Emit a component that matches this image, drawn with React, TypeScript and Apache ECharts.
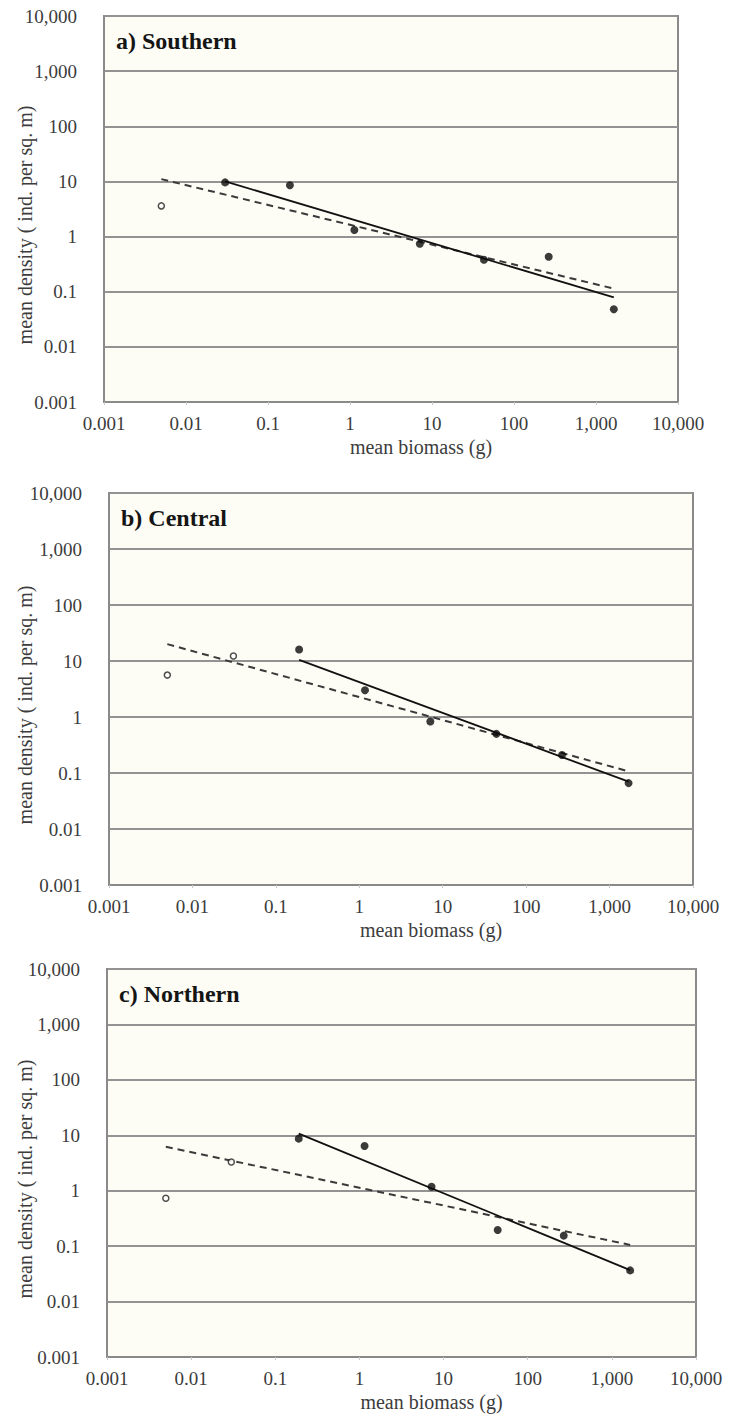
import React, { useEffect, useRef } from "react";
import * as echarts from "echarts";

// ---- data ----
const tickLabels = ["0.001", "0.01", "0.1", "1", "10", "100", "1,000", "10,000"];
const panelTitles = ["a) Southern", "b) Central", "c) Northern"];
const xTitle = "mean biomass (g)";
const yTitle = "mean density ( ind. per sq. m)";

const biomassA = [0.005, 0.03, 0.185, 1.13, 7.1, 43, 265, 1650];
const densityA = [3.6, 9.6, 8.5, 1.32, 0.74, 0.38, 0.43, 0.048];
const openCountA = 1;
const solidA = [[0.03, 10.0], [1650, 0.079]];
const dashedA = [[0.005, 11], [1600, 0.115]];

const biomassB = [0.005, 0.031, 0.19, 1.17, 7.1, 44, 269, 1690];
const densityB = [5.6, 12.3, 16.1, 3.0, 0.83, 0.5, 0.21, 0.066];
const openCountB = 2;
const solidB = [[0.19, 10.5], [1690, 0.07]];
const dashedB = [[0.005, 20], [1690, 0.107]];

const biomassC = [0.005, 0.03, 0.19, 1.15, 7.2, 44, 268, 1650];
const densityC = [0.73, 3.3, 8.7, 6.4, 1.18, 0.196, 0.155, 0.0365];
const openCountC = 2;
const solidC = [[0.19, 10.7], [1650, 0.037]];
const dashedC = [[0.005, 6.2], [1650, 0.105]];

const panels = [
  { biomass: biomassA, density: densityA, open: openCountA, solid: solidA, dashed: dashedA },
  { biomass: biomassB, density: densityB, open: openCountB, solid: solidB, dashed: dashedB },
  { biomass: biomassC, density: densityC, open: openCountC, solid: solidC, dashed: dashedC },
];

// ---- layout ----
const grids = [
  { left: 104, top: 16, width: 574, height: 386 },
  { left: 109, top: 493, width: 584, height: 392 },
  { left: 107, top: 969, width: 589, height: 388 },
];

const FONT = "Liberation Serif, serif";
const fmt = (v: number) => tickLabels[Math.round(Math.log10(v)) + 3] ?? "";

export default function App() {
  const ref = useRef<HTMLDivElement>(null);
  useEffect(() => {
    if (!ref.current) return;
    const chart = echarts.init(ref.current, undefined, { renderer: "svg" });

    const xAxis: any[] = [];
    const yAxis: any[] = [];
    const series: any[] = [];
    const graphic: any[] = [];

    panels.forEach((p, i) => {
      const g = grids[i];
      xAxis.push({
        type: "log",
        logBase: 10,
        gridIndex: i,
        min: 0.001,
        max: 10000,
        splitNumber: 7,
        axisLine: { show: true, lineStyle: { color: "#8a8a8a", width: 2 } },
        axisTick: { show: true, length: 3, lineStyle: { color: "#c8c8c8" } },
        axisLabel: { formatter: fmt, fontFamily: FONT, fontSize: 19, color: "#3c3c3c", margin: 12 },
        splitLine: { show: false },
        minorTick: { show: false },
      });
      yAxis.push({
        type: "log",
        logBase: 10,
        gridIndex: i,
        min: 0.001,
        max: 10000,
        splitNumber: 7,
        axisLine: { show: true, lineStyle: { color: "#8a8a8a", width: 2 } },
        axisTick: { show: false },
        axisLabel: { formatter: fmt, fontFamily: FONT, fontSize: 19, color: "#3c3c3c", margin: 27 },
        splitLine: { show: true, lineStyle: { color: "#939393", width: 2 } },
      });
      const filled = p.biomass.slice(p.open).map((x, k) => [x, p.density[k + p.open]]);
      const open = p.biomass.slice(0, p.open).map((x, k) => [x, p.density[k]]);
      series.push({
        type: "line",
        xAxisIndex: i,
        yAxisIndex: i,
        data: p.dashed,
        symbol: "none",
        lineStyle: { color: "#3a3a3a", width: 2, type: [7, 5] },
        z: 2,
      });
      series.push({
        type: "line",
        xAxisIndex: i,
        yAxisIndex: i,
        data: p.solid,
        symbol: "none",
        lineStyle: { color: "#111", width: 1.8 },
        z: 3,
      });
      series.push({
        type: "scatter",
        xAxisIndex: i,
        yAxisIndex: i,
        data: filled,
        symbol: "circle",
        symbolSize: 8,
        itemStyle: { color: "#0a0a0a" },
        z: 4,
      });
      series.push({
        type: "scatter",
        xAxisIndex: i,
        yAxisIndex: i,
        data: open,
        symbol: "circle",
        symbolSize: 6,
        itemStyle: { color: "#ffffff", borderColor: "#222", borderWidth: 1.5 },
        z: 4,
      });

      graphic.push({
        type: "text",
        x: g.left + 12,
        y: g.top + 25,
        z: 10,
        style: {
          text: panelTitles[i],
          fontFamily: FONT,
          fontSize: 24,
          fontWeight: "bold",
          fill: "#151515",
          align: "left",
          verticalAlign: "middle",
        },
      });
      graphic.push({
        type: "text",
        x: 25,
        y: g.top + g.height / 2 + 16,
        rotation: Math.PI / 2,
        style: {
          text: yTitle,
          fontFamily: FONT,
          fontSize: 20,
          fill: "#3c3c3c",
          align: "center",
          verticalAlign: "middle",
        },
      });
      graphic.push({
        type: "text",
        x: g.left + g.width / 2 + 30,
        y: g.top + g.height + 45,
        style: {
          text: xTitle,
          fontFamily: FONT,
          fontSize: 20,
          fill: "#3c3c3c",
          align: "center",
          verticalAlign: "middle",
        },
      });
    });

    chart.setOption({
      animation: false,
      backgroundColor: "#ffffff",
      grid: grids.map((g) => ({
        ...g,
        show: true,
        backgroundColor: "#fdfdf6",
        borderColor: "#8a8a8a",
        borderWidth: 2,
      })),
      xAxis,
      yAxis,
      series,
      graphic,
    });
    return () => chart.dispose();
  }, []);
  return (
    <div
      ref={ref}
      style={{ position: "absolute", left: 0, top: 0, width: 731, height: 1414, background: "#fff" }}
    />
  );
}
